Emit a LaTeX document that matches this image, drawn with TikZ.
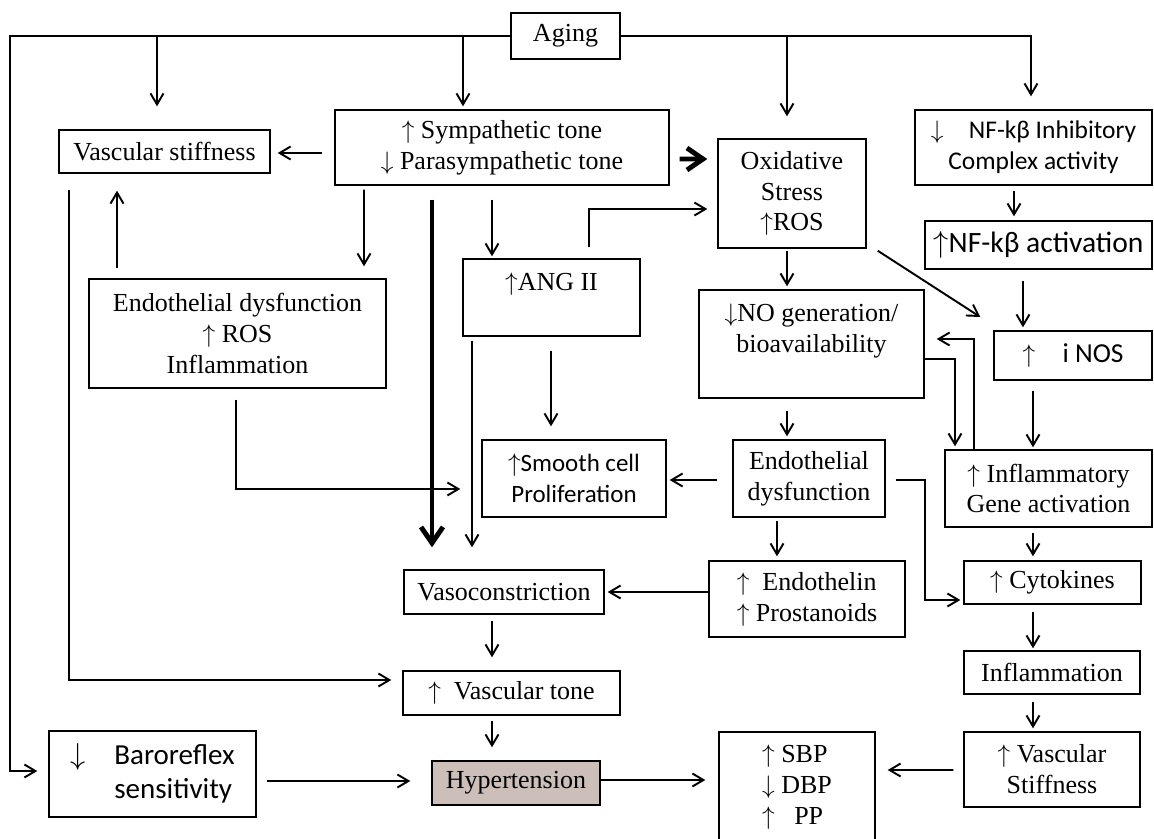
\documentclass[tikz,border=0pt]{standalone}
\usepackage{fontspec}
\setmainfont{Liberation Serif}
\newfontfamily\calib{Carlito}
\usepackage{xcolor}
\usepackage{tikz}
\usetikzlibrary{arrows.meta,calc}
\definecolor{hypfill}{RGB}{204,191,185}
\newcommand{\upa}{$\uparrow$}
\newcommand{\dna}{$\downarrow$}

\begin{document}
\begin{tikzpicture}[x=0.02cm,y=-0.02cm,
    box/.style 2 args={draw,line width=0.8pt,minimum width=#1*0.02cm,
      minimum height=#2*0.02cm,inner sep=0pt,align=center,
      font=\fontsize{14.8}{17.6}\selectfont},
    sans/.style 2 args={font=\calib\fontsize{#1}{#2}\selectfont},
    arr/.style={-{Straight Barb[length=0.22cm,width=0.26cm]},line width=1.1pt},
    big/.style={-{Straight Barb[length=0.32cm,width=0.44cm]},line width=2.8pt}]
  \useasboundingbox (0,0) rectangle (1154,839);

  % boxes
  \node[box={109}{46}] (aging) at (565.5,36) {Aging};
  \node[box={211}{43}] (vs) at (164.5,151.5) {Vascular stiffness};
  \node[box={334}{75}] (sym) at (502,147.5) {\upa\ Sympathetic tone\\\dna\ Parasympathetic tone};
  \node[box={148}{109}] (oxi) at (792,193.5) {Oxidative\\Stress\\\upa ROS};
  \node[box={237}{75},sans={14.5}{17.5}] (nfi) at (1033.5,147.5) {\dna\quad NF-kβ Inhibitory\\Complex activity};
  \node[box={227}{48},sans={16.8}{20}] (nfa) at (1038.5,245) {\upa NF-kβ activation};
  \node[box={177}{77}] (ang) at (551.5,297.5) {\upa ANG II\\~};
  \node[box={297}{109}] (edl) at (237.5,333.5) {Endothelial dysfunction\\\upa\ ROS\\Inflammation};
  \node[box={225}{108}] (no) at (811.5,344) {\dna NO generation/\\bioavailability\\~};
  \node[box={158}{49},sans={15.6}{18}] (inos) at (1073,355.5) {\upa\quad i NOS};
  \node[box={184}{77},sans={14.2}{17.5}] (smc) at (574,478.5) {\upa Smooth cell\\Proliferation};
  \node[box={152}{77}] (edm) at (809,478.5) {Endothelial\\dysfunction};
  \node[box={207}{77}] (infg) at (1048.5,488.5) {\upa\ Inflammatory\\Gene activation};
  \node[box={200}{44}] (vasoc) at (504,592) {Vasoconstriction};
  \node[box={196}{76},align=left] (endo) at (807,599) {\upa\ \ Endothelin\\\upa\ Prostanoids};
  \node[box={177}{43}] (cyto) at (1052.5,582.5) {\upa\ Cytokines};
  \node[box={176}{43}] (infl) at (1052,672.5) {Inflammation};
  \node[box={217}{44}] (tone) at (511.5,693) {\upa\ \ Vascular tone};
  \node[box={207}{86},sans={16.5}{19.5},align=left] (baro) at (152.5,774) {\dna\quad Baroreflex\\\phantom{\dna\quad}sensitivity};
  \node[box={168}{44},fill=hypfill] (hyp) at (516,783) {Hypertension};
  \node[box={156}{110},align=left] (bp) at (797,787) {\upa\ SBP\\\dna\ DBP\\\upa\ \ \ PP};
  \node[box={176}{75}] (vs2) at (1052,769.5) {\upa\ Vascular\\Stiffness};

  % aging lines
  \coordinate (rail) at (10,36);
  \draw[arr] (aging.west) -- (rail) |- ($(baro.west)+(-11,-3)$);
  \draw[arr] ($(vs.north |- aging.west)+(-7.5,0)$) -- ($(vs.north)+(-7.5,-23)$);
  \draw[arr] ($(sym.north |- aging.west)+(-39,0)$) -- ($(sym.north)+(-39,-3)$);
  \draw[arr] (aging.east) -| ($(nfi.north)+(-2.5,-13)$);
  \draw[arr] ($(oxi.north |- aging.east)+(-5,0)$) -- ($(oxi.north)+(-5,-22)$);

  % left part
  \draw[arr] ($(sym.west)+(-12,5.5)$) -- ($(vs.east)+(7,1.5)$);
  \draw[big] ($(sym.east)+(10,11.5)$) -- ($(oxi.west)+(-10,-34.5)$);
  \draw[arr] ($(sym.south)+(-138,4)$) -- ($(edl.north)+(126.5,-12)$);
  \draw[big] ($(sym.south)+(-70,14)$) -- ($(vasoc.north)+(-72,-22)$);
  \draw[arr] ($(sym.south)+(-10,14)$) -- ($(ang.north)+(-59.5,-2)$);
  \draw[arr] ($(ang.north)+(37.5,-11)$) |- ($(oxi.west)+(-10,15.5)$);
  \draw[arr] ($(edl.north)+(-120.5,-10)$) -- ($(vs.south)+(-47.5,17)$);
  \draw[arr] ($(vs.south)+(-95.5,16)$) |- ($(tone.west)+(-11,-13)$);
  \draw[arr] ($(edl.south)+(-1.5,11)$) |- ($(smc.west)+(-21,10.5)$);
  \draw[arr] ($(ang.south)+(-79.5,4)$) -- ($(vasoc.north)+(-32,-22)$);
  \draw[arr] ($(ang.south)+(-0.5,14)$) -- ($(smc.north)+(-23,-13)$);

  % right part
  \draw[arr] ($(oxi.south)+(-5,2)$) -- ($(no.north)+(-24.5,-3)$);
  \draw[arr] ($(oxi.south east)+(11,2)$) -- ($(inos.west)+(-13,-38.5)$);
  \draw[arr] ($(nfi.south)+(-19.5,5)$) -- ($(nfa.north)+(-24.5,-4)$);
  \draw[arr] ($(nfa.south)+(-15.5,11)$) -- ($(inos.north)+(-50,-3)$);
  \draw[arr] ($(inos.south)+(-40,10)$) -- ($(infg.north)+(-15.5,-2)$);
  \draw[arr] ($(no.east)+(0,15)$) -| ($(infg.north)+(-93.5,-3)$);
  \draw[arr] ($(infg.north)+(-74.5,0)$) |- ($(no.east)+(12,-5)$);
  \draw[arr] ($(no.south)+(-24.5,12)$) -- ($(edm.north)+(-22,-3)$);
  \draw[arr] ($(edm.west)+(-15,1.5)$) -- ($(smc.east)+(3,1.5)$);
  \draw[arr] ($(edm.east)+(10,1.5)$) -- ++(29,0) |- ($(cyto.west)+(-3,17.5)$);
  \draw[arr] ($(edm.south)+(-32,3)$) -- ($(endo.north)+(-30,-4)$);
  \draw[arr] ($(endo.west)+(0,-7)$) -- ($(vasoc.east)+(3,0)$);
  \draw[arr] ($(infg.south)+(-15.5,5)$) -- ($(cyto.north)+(-19.5,-4)$);
  \draw[arr] ($(cyto.south)+(-19.5,7)$) -- ($(infl.north)+(-19,-2)$);
  \draw[arr] ($(infl.south)+(-19,7)$) -- ($(vs2.north)+(-19,-3)$);
  \draw[arr] ($(vs2.west)+(-10,0.5)$) -- ($(bp.east)+(12,-17)$);

  % bottom
  \draw[arr] ($(vasoc.south)+(-12,6)$) -- ($(tone.north)+(-19.5,-13)$);
  \draw[arr] ($(tone.south)+(-19.5,5)$) -- ($(hyp.north)+(-24,-13)$);
  \draw[arr] ($(baro.east)+(10,7)$) -- ($(hyp.west)+(-21,-2)$);
  \draw[arr] ($(hyp.east)+(0,-3)$) -- ($(bp.west)+(-13,-7)$);
\end{tikzpicture}
\end{document}
